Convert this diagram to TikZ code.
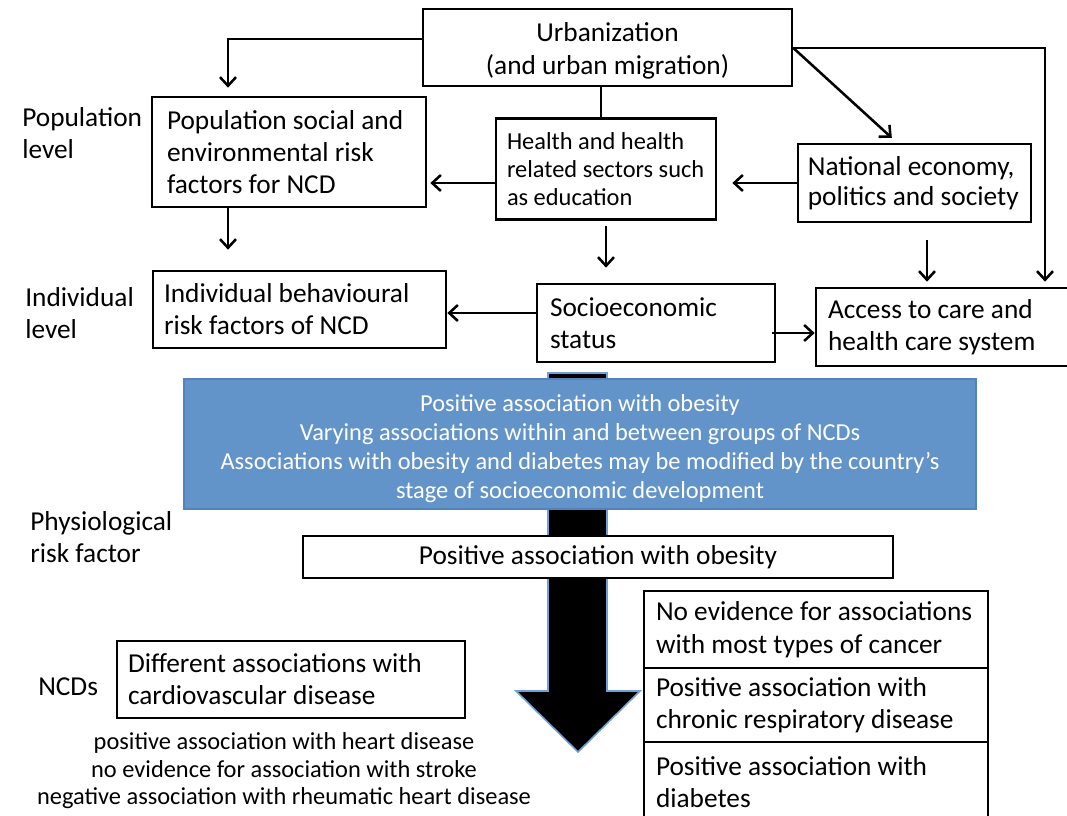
\documentclass[tikz,border=0pt]{standalone}
\usepackage{fontspec}
\setmainfont{Carlito}
\usetikzlibrary{arrows.meta}
\definecolor{bluefill}{RGB}{99,148,201}
\definecolor{blueedge}{RGB}{84,130,186}
\definecolor{arrowedge}{RGB}{112,160,214}
\newcommand{\fsBig}{\fontsize{20.5pt}{24pt}\selectfont}
\newcommand{\fsMid}{\fontsize{18.3pt}{21pt}\selectfont}
\newcommand{\lowerby}[2]{\raisebox{-#1}[\height][\depth]{#2}}
\tikzset{
  box/.style={draw, line width=2pt, fill=white, inner ysep=0pt, font=\fsBig, align=flush left},
  lbl/.style={inner sep=0pt, font=\fsBig, align=flush left, anchor=west},
  ln/.style={line width=1.9pt},
  arr/.style={line width=1.9pt, -{Straight Barb[length=6.5pt,width=12pt,line width=1.9pt]}},
  bigarrow/.style={fill=black, draw=arrowedge, line width=1.2pt, line join=miter}
}
\begin{document}
\begin{tikzpicture}[x=0.75pt,y=-0.75pt]
\useasboundingbox (0,0) rectangle (1067,816);
\clip (0,0) rectangle (1067,816);
\fill[white] (0,0) rectangle (1067,816);

% big black arrow (behind everything)
\draw[bigarrow] (548,373) -- (607,373) -- (607,691) -- (640,691) -- (578,752) -- (516,691) -- (548,691) -- cycle;

% top boxes
\node[box, inner xsep=0pt, minimum width=276.75pt, minimum height=57.75pt, font=\fontsize{20.5pt}{24.75pt}\selectfont] (urb) at (607.5,47.5)
  {\lowerby{3pt}{\begin{tabular}{@{}c@{}}Urbanization\\(and urban migration)\end{tabular}}};
\node[box, inner xsep=11.25pt, text width=183pt, minimum height=82.5pt] (pop) at (289,152)
  {Population social and\\environmental risk\\factors for NCD};
\node[box, font=\fsMid, inner xsep=8.25pt, text width=148.5pt, minimum height=75.75pt] (hlth) at (606,169)
  {Health and health\\related sectors such\\as education};
\node[box, inner xsep=7.375pt, text width=160pt, minimum height=58.5pt, font=\fontsize{20.5pt}{22.5pt}\selectfont] (nat) at (914.5,183)
  {National economy,\\politics and society};
\node[box, inner xsep=8.25pt, text width=203.25pt, minimum height=57.75pt] (ind) at (299.5,309.5)
  {Individual behavioural\\risk factors of NCD};
\node[box, inner xsep=9.75pt, text width=159pt, minimum height=58.5pt] (soc) at (656,323)
  {Socioeconomic\\status};
\node[box, inner xsep=9pt, text width=180pt, minimum height=58.5pt] (acc) at (948,327)
  {Access to care and\\health care system};

% level labels
\node[lbl] (lpop) at (22,133) {Population\\level};
\node[lbl] (lind) at (25,313) {Individual\\level};
\node[lbl] (lphys) at (30,537) {Physiological\\risk factor};
\node[lbl] (lncd) at (38,687) {NCDs};

% blue summary box
\node[draw=blueedge, fill=bluefill, line width=0.8pt, text=white, inner xsep=0pt, inner ysep=0pt,
      minimum width=594pt, minimum height=97.5pt, font=\fontsize{18.3pt}{21.75pt}\selectfont] (blue) at (580,444)
  {\lowerby{3.75pt}{\begin{tabular}{@{}c@{}}Positive association with obesity\\Varying associations within and between groups of NCDs\\Associations with obesity and diabetes may be modified by the country’s\\stage of socioeconomic development\end{tabular}}};

% physiological box
\node[box, align=flush center, inner xsep=0pt, text width=442.5pt, minimum height=31.5pt] (obes) at (598,557)
  {Positive association with obesity};

% NCD boxes
\node[box, inner xsep=8.25pt, text width=244.5pt, minimum height=57.75pt] (cvd) at (291,679.5)
  {Different associations with\\cardiovascular disease};
\node[align=flush center, inner sep=0pt, font=\fontsize{18.3pt}{20.6pt}\selectfont] (cvdtxt) at (284,771)
  {positive association with heart disease\\no evidence for association with stroke\\negative association with rheumatic heart disease};
\node[box, inner xsep=9pt, text width=240pt, minimum height=57.75pt, font=\fontsize{20.5pt}{24.75pt}\selectfont] (canc) at (816,629.5)
  {No evidence for associations\\with most types of cancer};
\node[box, inner xsep=9pt, text width=240pt, minimum height=55.5pt] (resp) at (816,705)
  {Positive association with\\chronic respiratory disease};
\node[box, inner xsep=9pt, text width=240pt, minimum height=60pt] (diab) at (816,782)
  {Positive association with\\diabetes};

% connectors
\draw[arr, shorten >=6pt] (urb.west |- 0,39) -| (pop.north -| 228,0);
\draw[ln] (urb.south -| 601,0) -- (hlth.north -| 601,0);
\draw[arr, shorten >=3.75pt] (urb.east |- 0,48) -| (acc.north -| 1045,0);
\draw[arr, shorten >=5.25pt] (urb.east |- 0,48) -- (nat.north -| 897,0);
\draw[arr, shorten >=2.25pt] (hlth.west |- 0,183) -- (pop.east |- 0,183);
\draw[arr, shorten >=11.25pt] (nat.west |- 0,183) -- (hlth.east |- 0,183);
\draw[arr, shorten >=15pt] (pop.south -| 228,0) -- (ind.north -| 228,0);
\draw[arr, shorten <=3.75pt, shorten >=11.25pt] (hlth.south -| 606,0) -- (soc.north -| 606,0);
\draw[arr, shorten <=12.75pt, shorten >=3.75pt] (nat.south -| 927,0) -- (acc.north -| 927,0);
\draw[arr] (soc.west |- 0,313) -- (ind.east |- 0,313);
\draw[arr, shorten <=-3pt] (soc.east |- 0,333) -- (acc.west |- 0,333);
\end{tikzpicture}
\end{document}
